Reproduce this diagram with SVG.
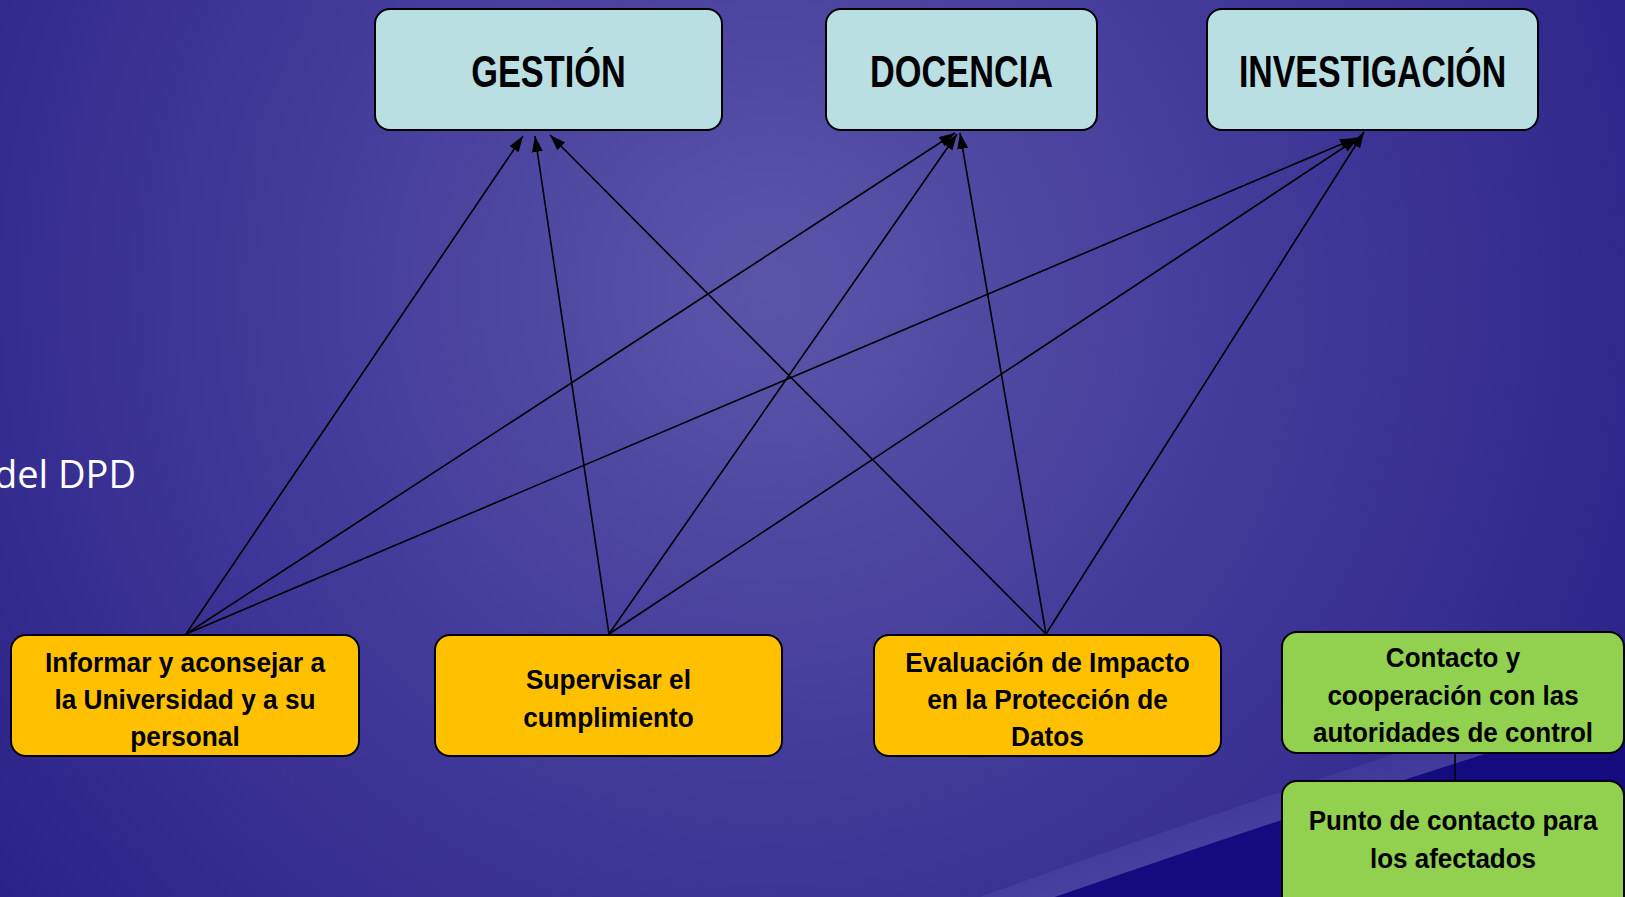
<svg xmlns="http://www.w3.org/2000/svg" width="1625" height="897" viewBox="0 0 1625 897">
<defs>
<radialGradient id="bg" gradientUnits="userSpaceOnUse" cx="770" cy="290" r="980">
<stop offset="0" stop-color="#5B55A9"/>
<stop offset="0.45" stop-color="#453D9B"/>
<stop offset="1" stop-color="#2B2288"/>
</radialGradient>
<linearGradient id="band" gradientUnits="userSpaceOnUse" x1="1300" y1="720" x2="1330" y2="810">
<stop offset="0" stop-color="#6A66C0" stop-opacity="0"/>
<stop offset="1" stop-color="#6A66C0" stop-opacity="0.3"/>
</linearGradient>
<marker id="arr" markerUnits="userSpaceOnUse" markerWidth="18" markerHeight="12" refX="16" refY="5.5" orient="auto">
<path d="M0,0 L16,5.5 L0,11 Z" fill="#000"/>
</marker>
<style>
.top{fill:#B9DFE3;stroke:#000;stroke-width:2}
.org{fill:#FFC000;stroke:#000;stroke-width:2}
.grn{fill:#92D050;stroke:#000;stroke-width:2}
.h{font-family:"Liberation Sans",Arial,sans-serif;font-weight:bold;font-size:44px;fill:#000;text-anchor:middle}
.b{font-family:"Liberation Sans",Arial,sans-serif;font-weight:bold;font-size:27.5px;fill:#000;text-anchor:middle}
.edge{stroke:#000;stroke-width:1.6;fill:none;marker-end:url(#arr)}
.title{font-family:"Open Sans","Noto Sans",sans-serif;font-size:38px;fill:#fff;text-anchor:end}
</style>
</defs>
<rect x="0" y="0" width="1625" height="897" fill="url(#bg)"/>
<path d="M980,897 Q1320,775 1625,680 L1625,710 Q1350,795 1055,897 Z" fill="url(#band)"/>
<path d="M1055,897 Q1350,795 1625,710 L1625,897 Z" fill="#140B7F"/>
<text class="title" x="136" y="488">del DPD</text>

<g id="connectors">
<line class="edge" x1="186" y1="634" x2="523" y2="136"/>
<line class="edge" x1="186" y1="634" x2="955" y2="133"/>
<line class="edge" x1="186" y1="634" x2="1356" y2="138"/>
<line class="edge" x1="609" y1="634" x2="535" y2="136"/>
<line class="edge" x1="609" y1="634" x2="957" y2="134"/>
<line class="edge" x1="609" y1="634" x2="1358" y2="138"/>
<line class="edge" x1="1046" y1="634" x2="550" y2="135"/>
<line class="edge" x1="1046" y1="634" x2="960" y2="133"/>
<line class="edge" x1="1046" y1="634" x2="1364" y2="132"/>
<line x1="1455" y1="753" x2="1455" y2="781" stroke="#000" stroke-width="1.5"/>
</g>

<g id="gestion">
<rect class="top" x="375" y="9" width="347" height="121" rx="15"/>
<text class="h" transform="translate(548.5,87) scale(0.78,1)">GESTIÓN</text>
</g>
<g id="docencia">
<rect class="top" x="826" y="9" width="271" height="121" rx="15"/>
<text class="h" transform="translate(961.5,87) scale(0.78,1)">DOCENCIA</text>
</g>
<g id="investigacion">
<rect class="top" x="1207" y="9" width="331" height="121" rx="15"/>
<text class="h" transform="translate(1372.5,87) scale(0.77,1)">INVESTIGACIÓN</text>
</g>

<g id="informar">
<rect class="org" x="11" y="635" width="348" height="121" rx="15"/>
<text class="b" transform="translate(185,672) scale(0.955,1)">Informar y aconsejar a</text>
<text class="b" transform="translate(185,709) scale(0.955,1)">la Universidad y a su</text>
<text class="b" transform="translate(185,746) scale(0.955,1)">personal</text>
</g>
<g id="supervisar">
<rect class="org" x="435" y="635" width="347" height="121" rx="15"/>
<text class="b" transform="translate(608.5,689) scale(0.955,1)">Supervisar el</text>
<text class="b" transform="translate(608.5,727) scale(0.955,1)">cumplimiento</text>
</g>
<g id="evaluacion">
<rect class="org" x="874" y="635" width="347" height="121" rx="15"/>
<text class="b" transform="translate(1047.5,672) scale(0.955,1)">Evaluación de Impacto</text>
<text class="b" transform="translate(1047.5,709) scale(0.955,1)">en la Protección de</text>
<text class="b" transform="translate(1047.5,746) scale(0.955,1)">Datos</text>
</g>
<g id="contacto">
<rect class="grn" x="1282" y="632" width="342" height="121" rx="15"/>
<text class="b" transform="translate(1453,667) scale(0.945,1)">Contacto y</text>
<text class="b" transform="translate(1453,705) scale(0.945,1)">cooperación con las</text>
<text class="b" transform="translate(1453,742) scale(0.945,1)">autoridades de control</text>
</g>
<g id="punto">
<rect class="grn" x="1282" y="781" width="342" height="130" rx="15"/>
<text class="b" transform="translate(1453,830) scale(0.945,1)">Punto de contacto para</text>
<text class="b" transform="translate(1453,868) scale(0.945,1)">los afectados</text>
</g>
</svg>
